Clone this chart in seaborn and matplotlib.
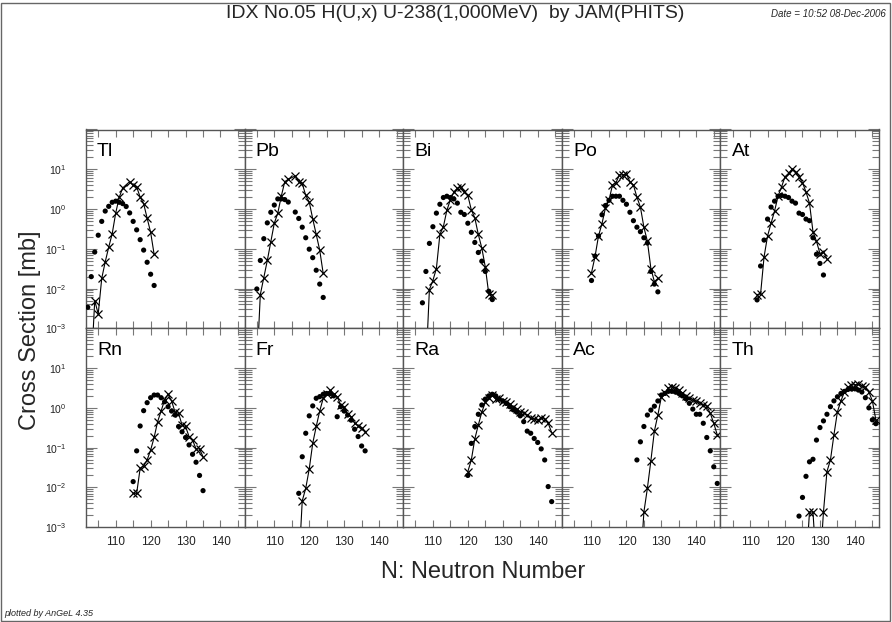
import matplotlib
matplotlib.use("Agg")
import matplotlib.pyplot as plt
import seaborn as sns
import numpy as np
from matplotlib.ticker import FixedLocator, LogLocator, MultipleLocator, NullFormatter, FuncFormatter
from matplotlib.patches import Rectangle

# ---------------- data ----------------
elements = ["Tl", "Pb", "Bi", "Po", "At", "Rn", "Fr", "Ra", "Ac", "Th"]

# experimental data (dots)
tl_exp_n = list(range(102, 122))
tl_exp_v = [0.0034, 0.020, 0.083, 0.22, 0.49, 0.89, 1.17, 1.48, 1.58, 1.48,
            1.37, 1.16, 0.80, 0.49, 0.30, 0.17, 0.093, 0.046, 0.023, 0.012]
pb_exp_n = [105, 106, 107, 108, 109, 110, 111, 112, 113, 114, 116, 117, 118, 119, 120, 121, 122, 123, 124]
pb_exp_v = [0.0098, 0.051, 0.18, 0.45, 0.83, 1.26, 1.8, 1.8, 1.73, 1.5,
            0.84, 0.58, 0.35, 0.19, 0.098, 0.060, 0.029, 0.013, 0.006]
bi_exp_n = list(range(107, 128))
bi_exp_v = [0.0044, 0.027, 0.137, 0.36, 0.79, 1.32, 1.95, 2.1, 1.95, 1.8, 1.41,
            0.83, 0.73, 0.44, 0.26, 0.145, 0.081, 0.049, 0.027, 0.0086, 0.0053]
po_exp_n = list(range(110, 130))
po_exp_v = [0.016, 0.066, 0.21, 0.72, 1.23, 1.66, 2.1, 2.1, 2.1, 1.66,
            1.32, 0.83, 0.51, 0.35, 0.27, 0.19, 0.14, 0.027, 0.013, 0.0083]
at_exp_n = list(range(112, 132))
at_exp_v = [0.0052, 0.037, 0.166, 0.56, 1.12, 1.58, 2.1, 2.2, 2.1, 1.95,
            1.58, 1.41, 0.79, 0.73, 0.56, 0.51, 0.19, 0.073, 0.043, 0.022]
rn_exp_n = list(range(115, 136))
rn_exp_v = [0.014, 0.083, 0.35, 0.85, 1.35, 1.8, 2.1, 2.1, 1.8, 1.42, 1.07,
            0.83, 0.66, 0.34, 0.25, 0.18, 0.117, 0.068, 0.043, 0.020, 0.0083]
fr_exp_n = list(range(117, 137))
fr_exp_v = [0.0071, 0.059, 0.23, 0.63, 1.12, 1.74, 1.91, 2.2, 2.3, 2.3,
            2.0, 0.60, 1.07, 0.83, 0.66, 0.49, 0.29, 0.19, 0.11, 0.083]
ra_exp_n = list(range(120, 145))
ra_exp_v = [0.020, 0.128, 0.34, 0.69, 1.18, 1.66, 2.0, 2.2, 2.0, 1.66, 1.49, 1.29, 1.07,
            0.89, 0.78, 0.63, 0.45, 0.26, 0.23, 0.17, 0.135, 0.093, 0.049, 0.0105, 0.0044]
ac_exp_n = list(range(123, 147))
ac_exp_v = [0.049, 0.14, 0.34, 0.66, 0.88, 1.1, 1.49, 2.1, 2.3, 2.6, 2.6, 2.5,
            2.3, 2.0, 1.7, 1.3, 0.93, 0.69, 0.69, 0.41, 0.18, 0.083, 0.033, 0.0126]
th_exp_n = list(range(124, 147))
th_exp_v = [0.0019, 0.0056, 0.019, 0.044, 0.051, 0.155, 0.32, 0.47, 0.69, 1.07, 1.5,
            1.9, 2.3, 2.6, 2.9, 3.0, 3.0, 2.8, 2.5, 1.8, 1.0, 0.5, 0.4]

# JAM(PHITS) calculation (crosses + line); values below 1e-3 fall off the axis
tl_cal_n = [103, 104, 105, 106, 107, 108, 109, 110, 111, 112, 114, 115, 116, 117, 118, 119, 120, 121]
tl_cal_v = [1e-4, 0.005, 0.0023, 0.018, 0.047, 0.11, 0.24, 0.79, 1.96, 3.4,
            4.9, 4.0, 3.6, 2.0, 1.37, 0.59, 0.26, 0.073]
pb_cal_n = [105, 106, 107, 108, 109, 110, 111, 112, 113, 114, 116, 117, 118, 119, 120, 121, 122, 123, 124]
pb_cal_v = [1e-4, 0.0071, 0.019, 0.051, 0.15, 0.44, 0.79, 2.1, 4.9, 5.6,
            6.8, 4.9, 4.4, 2.2, 1.5, 0.57, 0.23, 0.093, 0.024]
bi_cal_n = list(range(108, 128))
bi_cal_v = [1e-4, 0.0095, 0.016, 0.032, 0.23, 0.36, 0.93, 1.7, 2.7, 3.3,
            3.6, 2.7, 2.2, 0.95, 0.6, 0.23, 0.105, 0.035, 0.0073, 0.007]
po_cal_n = list(range(110, 130))
po_cal_v = [0.025, 0.063, 0.21, 0.43, 1.07, 1.66, 4.0, 4.6, 7.2, 7.2,
            7.6, 4.9, 4.0, 2.0, 1.12, 0.35, 0.155, 0.032, 0.015, 0.018]
at_cal_n = list(range(112, 133))
at_cal_v = [0.0071, 0.0073, 0.063, 0.21, 0.44, 0.89, 2.1, 3.6, 6.5, 7.9, 10.0,
            8.3, 6.5, 4.6, 2.7, 1.41, 0.27, 0.155, 0.076, 0.085, 0.056]
rn_cal_n = list(range(115, 136))
rn_cal_v = [0.0071, 0.0071, 0.030, 0.035, 0.049, 0.087, 0.18, 0.45, 0.83, 1.58, 2.2,
            1.49, 0.78, 0.73, 0.37, 0.34, 0.19, 0.155, 0.093, 0.093, 0.059]
fr_cal_n = list(range(117, 137))
fr_cal_v = [1e-4, 0.0046, 0.0095, 0.029, 0.128, 0.34, 0.83, 1.74, 2.2, 2.8,
            2.2, 1.91, 1.18, 1.07, 0.69, 0.60, 0.41, 0.36, 0.31, 0.25]
ra_cal_n = list(range(120, 145))
ra_cal_v = [0.025, 0.049, 0.166, 0.37, 0.78, 1.38, 1.8, 2.1, 1.66, 1.8, 1.49, 1.38, 1.23,
            1.07, 0.93, 0.80, 0.73, 0.66, 0.56, 0.53, 0.49, 0.56, 0.52, 0.41, 0.24]
ac_cal_n = list(range(124, 147))
ac_cal_v = [1e-4, 0.0024, 0.0095, 0.047, 0.26, 0.66, 1.9, 2.3, 3.2, 3.4, 3.2, 2.8,
            2.4, 2.0, 1.8, 1.6, 1.45, 1.35, 1.2, 1.1, 0.73, 0.41, 0.21]
th_cal_n = list(range(126, 147))
th_cal_v = [1e-4, 0.0024, 0.0024, 1e-4, 1e-4, 0.0024, 0.025, 0.049, 0.21, 0.8, 1.5,
            2.5, 3.3, 3.8, 3.8, 3.9, 3.6, 3.3, 2.5, 1.5, 0.5]

exp_data = {
    "Tl": (tl_exp_n, tl_exp_v), "Pb": (pb_exp_n, pb_exp_v), "Bi": (bi_exp_n, bi_exp_v),
    "Po": (po_exp_n, po_exp_v), "At": (at_exp_n, at_exp_v), "Rn": (rn_exp_n, rn_exp_v),
    "Fr": (fr_exp_n, fr_exp_v), "Ra": (ra_exp_n, ra_exp_v), "Ac": (ac_exp_n, ac_exp_v),
    "Th": (th_exp_n, th_exp_v),
}
cal_data = {
    "Tl": (tl_cal_n, tl_cal_v), "Pb": (pb_cal_n, pb_cal_v), "Bi": (bi_cal_n, bi_cal_v),
    "Po": (po_cal_n, po_cal_v), "At": (at_cal_n, at_cal_v), "Rn": (rn_cal_n, rn_cal_v),
    "Fr": (fr_cal_n, fr_cal_v), "Ra": (ra_cal_n, ra_cal_v), "Ac": (ac_cal_n, ac_cal_v),
    "Th": (th_cal_n, th_cal_v),
}

x_ticks = [110, 120, 130, 140]
y_ticks = [1e-3, 1e-2, 1e-1, 1e0, 1e1]

# ---------------- style ----------------
sns.set_theme(style="ticks")
plt.rcParams["font.family"] = ["Liberation Sans", "DejaVu Sans"]
plt.rcParams["mathtext.fontset"] = "custom"
plt.rcParams["mathtext.rm"] = "Liberation Sans"
plt.rcParams["mathtext.it"] = "Liberation Sans:italic"

W, H = 892, 622
fig = plt.figure(figsize=(W / 100, H / 100), dpi=100)
fig.patch.set_facecolor("white")

left0 = 86.0
pw = 158.6
rows_top = [129.5, 328.3]
ph = 198.9

for i, el in enumerate(elements):
    r, c = divmod(i, 5)
    x0 = left0 + c * pw
    y_top = rows_top[r]
    ax = fig.add_axes([x0 / W, 1 - (y_top + ph) / H, pw / W, ph / H])
    ax.set_yscale("log")
    ax.set_xlim(101.5, 146.9)
    ax.set_ylim(1e-3, 1e2)

    en, ev = exp_data[el]
    cn, cv = cal_data[el]
    sns.lineplot(x=cn, y=cv, ax=ax, color="black", linewidth=0.8, marker="x",
                 markersize=6, markeredgewidth=0.9, markeredgecolor="black",
                 estimator=None, sort=True, zorder=3)
    sns.scatterplot(x=en, y=ev, ax=ax, color="black", s=14, linewidth=0,
                    edgecolor="none", zorder=4)
    ax.set_xlabel("")
    ax.set_ylabel("")

    ax.xaxis.set_major_locator(FixedLocator(x_ticks))
    ax.xaxis.set_minor_locator(MultipleLocator(5))
    ax.yaxis.set_major_locator(FixedLocator(y_ticks + [1e2]))
    ax.yaxis.set_minor_locator(LogLocator(base=10, subs=np.arange(2, 10), numticks=20))
    ax.yaxis.set_minor_formatter(NullFormatter())

    ax.tick_params(which="both", direction="in", top=True, right=True,
                   color="#777777", width=0.8)
    ax.tick_params(axis="y", which="major", length=8)
    ax.tick_params(axis="y", which="minor", length=5)
    ax.tick_params(axis="x", which="both", length=5)
    ax.tick_params(axis="x", labelsize=8.5, pad=6, labelcolor="#222222")
    ax.tick_params(axis="y", labelsize=7.5, pad=14, labelcolor="#222222")

    if c == 0:
        ax.yaxis.set_major_formatter(
            FuncFormatter(lambda v, p: "" if v > 50 else "$10^{%d}$" % int(round(np.log10(v)))))
    else:
        ax.yaxis.set_major_formatter(NullFormatter())
    if r == 0:
        ax.xaxis.set_major_formatter(NullFormatter())

    for sp in ax.spines.values():
        sp.set_color("#555555")
        sp.set_linewidth(1.0)

    ax.text(0.07, 0.93, el, transform=ax.transAxes, ha="left", va="top",
            fontsize=14, color="black")

# labels
fig.text(483 / W, 1 - 572 / H, "N: Neutron Number", ha="center", va="center", fontsize=17)
fig.text(30 / W, 1 - 330 / H, "Cross Section [mb]", ha="center", va="center",
         rotation=90, fontsize=17)
fig.text(455 / W, 1 - 14 / H, "IDX No.05 H(U,x) U-238(1,000MeV)  by JAM(PHITS)",
         ha="center", va="center", fontsize=14)
fig.text(886 / W, 1 - 14 / H, "Date = 10:52 08-Dec-2006", ha="right", va="center",
         fontsize=7, style="italic")
fig.text(4 / W, 1 - 613 / H, "plotted by AnGeL 4.35", ha="left", va="center",
         fontsize=6.5, style="italic")

fig.patches.append(Rectangle((1 / W, 1 / H), (W - 3) / W, (H - 4) / H,
                             transform=fig.transFigure, fill=False,
                             edgecolor="#666666", linewidth=1.0))

fig.savefig("out.png", dpi=100, facecolor="white")
